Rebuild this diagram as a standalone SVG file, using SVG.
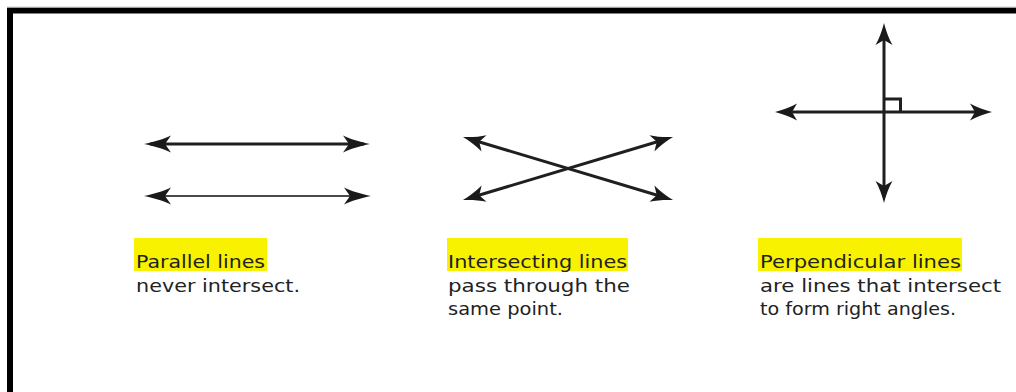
<svg xmlns="http://www.w3.org/2000/svg" width="1016" height="392" viewBox="0 0 1016 392">
  <defs>
    <!-- swept arrowheads; the tip sits 6px beyond the line end -->
    <marker id="headL" markerUnits="userSpaceOnUse" viewBox="-26 -9 33 18" refX="0" refY="0" markerWidth="33" markerHeight="18" orient="auto-start-reverse">
      <path d="M6,0 C-4,-2 -14,-5 -21,-8.5 L-15,0 L-21,8.5 C-14,5 -4,2 6,0 Z" fill="#1a1a1a"/>
    </marker>
    <marker id="headS" markerUnits="userSpaceOnUse" viewBox="-22 -9 29 18" refX="0" refY="0" markerWidth="29" markerHeight="18" orient="auto-start-reverse">
      <path d="M6,0 C-2,-2 -10,-5 -16,-8.5 L-11,0 L-16,8.5 C-10,5 -2,2 6,0 Z" fill="#1a1a1a"/>
    </marker>
    <style>
      .ln { fill: none; stroke: #1f1f1f; stroke-width: 3; }
      .thin { stroke: #4a4a4a; stroke-width: 2; }
      .big { marker-start: url(#headL); marker-end: url(#headL); }
      .small { marker-start: url(#headS); marker-end: url(#headS); }
      .hl { fill: #f8f200; }
      .txt { font-family: "DejaVu Sans", "Liberation Sans", sans-serif; font-size: 18px; fill: #222; }
    </style>
  </defs>

  <rect width="1016" height="392" fill="#ffffff"/>
  <!-- frame: top and left edges only -->
  <path d="M10,392 V10.5 H1016" fill="none" stroke="#000" stroke-width="6"/>
  <line x1="7" y1="7.2" x2="1016" y2="7.2" stroke="#b0b0b0" stroke-width="1"/>

  <g id="connectors">
    <!-- parallel pair -->
    <line class="ln big" x1="150" y1="144" x2="364" y2="144"/>
    <line class="ln thin big" x1="150" y1="196" x2="365" y2="196"/>
    <!-- crossing pair -->
    <line class="ln small" x1="468.7" y1="138.7" x2="667.3" y2="198.3"/>
    <line class="ln small" x1="468.7" y1="198.3" x2="667.3" y2="138.7"/>
    <!-- perpendicular pair -->
    <line class="ln small" x1="884" y1="197" x2="884" y2="29"/>
    <line class="ln small" x1="781" y1="112" x2="986" y2="112"/>
    <path class="ln" d="M884,99 H900.5 V112" stroke-width="2.5"/>
  </g>

  <g id="parallel">
    <rect class="hl" x="134" y="238" width="133" height="33"/>
    <text class="txt" x="136" y="268" textLength="129" lengthAdjust="spacingAndGlyphs">Parallel lines</text>
    <text class="txt" x="136" y="292" textLength="164" lengthAdjust="spacingAndGlyphs">never intersect.</text>
  </g>

  <g id="intersecting">
    <rect class="hl" x="447" y="238" width="181" height="33"/>
    <text class="txt" x="448" y="268" textLength="179" lengthAdjust="spacingAndGlyphs">Intersecting lines</text>
    <text class="txt" x="448" y="292" textLength="182" lengthAdjust="spacingAndGlyphs">pass through the</text>
    <text class="txt" x="448" y="315" textLength="115" lengthAdjust="spacingAndGlyphs">same point.</text>
  </g>

  <g id="perpendicular">
    <rect class="hl" x="758" y="238" width="204" height="33"/>
    <text class="txt" x="760" y="268" textLength="201" lengthAdjust="spacingAndGlyphs">Perpendicular lines</text>
    <text class="txt" x="760" y="292" textLength="241" lengthAdjust="spacingAndGlyphs">are lines that intersect</text>
    <text class="txt" x="760" y="315" textLength="196" lengthAdjust="spacingAndGlyphs">to form right angles.</text>
  </g>
</svg>
